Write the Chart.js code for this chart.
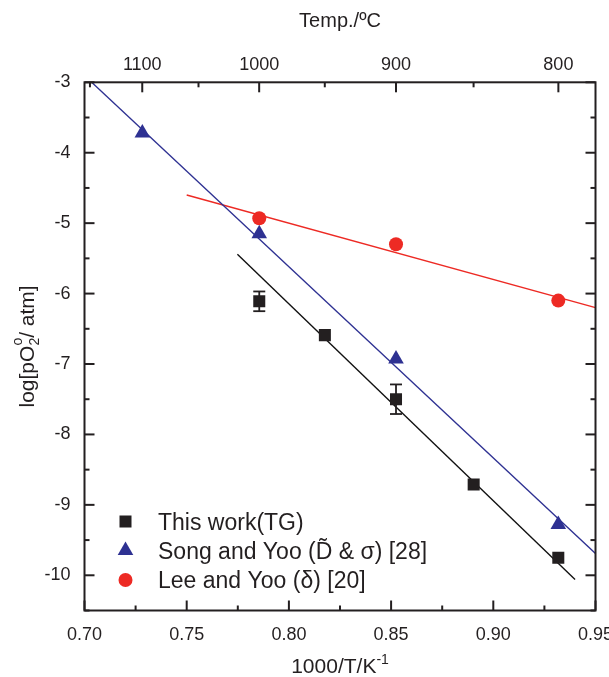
<!DOCTYPE html>
<html>
<head>
<meta charset="utf-8">
<script src="https://cdn.jsdelivr.net/npm/chart.js@4.4.1/dist/chart.umd.min.js"></script>
<style>
  html, body { margin: 0; padding: 0; background: #fff; }
  canvas { display: block; }
</style>
</head>
<body>
<canvas id="chart" width="609" height="677"></canvas>
<script>
// axis ticks
const xTicks = [0.70, 0.75, 0.80, 0.85, 0.90, 0.95];
const yTicks = [-3, -4, -5, -6, -7, -8, -9, -10];
const tempMajor = [1100, 1000, 900, 800];   // top axis, deg C
const tempMinor = [1150, 1050, 950, 850];

// This work (TG)
const tgX = [0.7855, 0.8176, 0.8524, 0.8904, 0.9318];
const tgY = [-6.11, -6.59, -7.50, -8.71, -9.75];
const tgErr = [0.14, 0, 0.21, 0, 0];
const tgFitX = [0.7748, 0.9400];
const tgFitY = [-5.44, -10.06];

// Song and Yoo
const songX = [0.7283, 0.7855, 0.8524, 0.9318];
const songY = [-3.72, -5.15, -6.93, -9.28];
const songFitX = [0.7035, 0.9500];
const songFitY = [-3.00, -9.69];

// Lee and Yoo
const leeX = [0.7855, 0.8524, 0.9318];
const leeY = [-4.93, -5.30, -6.10];
const leeFitX = [0.7500, 0.9500];
const leeFitY = [-4.60, -6.20];

const legendLabels = ['This work(TG)', 'Song and Yoo (D\u0303 & \u03c3) [28]', 'Lee and Yoo (\u03b4) [20]'];

const FONT = '"Liberation Sans", Arial, sans-serif';
const INK = '#231f20';
const BLUE = '#2e3192';
const RED = '#ed2a24';

const toInvT = t => 1000 / (t + 273.15);
const pts = (xs, ys) => xs.map((x, i) => ({ x: x, y: ys[i] }));

function tick(ctx, x1, y1, x2, y2) {
    ctx.beginPath();
    ctx.moveTo(x1, y1);
    ctx.lineTo(x2, y2);
    ctx.stroke();
}

// no extra room for the edge labels, the frame is fixed
function noEdgePad(s) {
    s.paddingLeft = 0;
    s.paddingRight = 0;
    s.paddingTop = 0;
    s.paddingBottom = 0;
}

// frame, inward ticks, error bars, legend and titles
const decor = {
    id: 'decor',
    afterDatasetsDraw(chart) {
        const ctx = chart.ctx, xs = chart.scales.x, ys = chart.scales.y;
        ctx.save();
        ctx.strokeStyle = INK;
        ctx.lineWidth = 1.8;
        tgX.forEach((x, i) => {
            if (!tgErr[i]) return;
            const px = xs.getPixelForValue(x);
            const y1 = ys.getPixelForValue(tgY[i] + tgErr[i]);
            const y2 = ys.getPixelForValue(tgY[i] - tgErr[i]);
            tick(ctx, px, y1, px, y2);
            tick(ctx, px - 6, y1, px + 6, y1);
            tick(ctx, px - 6, y2, px + 6, y2);
        });
        ctx.restore();
    },
    afterDraw(chart) {
        const ctx = chart.ctx, a = chart.chartArea;
        const xs = chart.scales.x, x2 = chart.scales.x2, ys = chart.scales.y;
        ctx.save();
        ctx.strokeStyle = INK;
        ctx.lineWidth = 2;
        ctx.strokeRect(a.left, a.top, a.right - a.left, a.bottom - a.top);

        // y ticks on both sides
        yTicks.forEach(v => {
            let p = ys.getPixelForValue(v);
            tick(ctx, a.left, p, a.left + 10, p);
            tick(ctx, a.right, p, a.right - 10, p);
            p = ys.getPixelForValue(v - 0.5);
            tick(ctx, a.left, p, a.left + 5, p);
            tick(ctx, a.right, p, a.right - 5, p);
        });
        // bottom ticks
        xTicks.forEach((v, i) => {
            let p = xs.getPixelForValue(v);
            tick(ctx, p, a.bottom, p, a.bottom - 10);
            if (i < xTicks.length - 1) {
                p = xs.getPixelForValue(v + 0.025);
                tick(ctx, p, a.bottom, p, a.bottom - 5);
            }
        });
        // top temperature ticks
        tempMajor.forEach(t => {
            const p = x2.getPixelForValue(toInvT(t));
            tick(ctx, p, a.top, p, a.top + 10);
        });
        tempMinor.forEach(t => {
            const p = x2.getPixelForValue(toInvT(t));
            tick(ctx, p, a.top, p, a.top + 5);
        });

        // legend
        const lx = 125.5, rows = [521.5, 550.5, 580];
        ctx.fillStyle = INK;
        ctx.fillRect(lx - 6, rows[0] - 6, 12, 12);
        ctx.fillStyle = BLUE;
        ctx.beginPath();
        ctx.moveTo(lx, rows[1] - 9);
        ctx.lineTo(lx + 7.8, rows[1] + 4.5);
        ctx.lineTo(lx - 7.8, rows[1] + 4.5);
        ctx.closePath();
        ctx.fill();
        ctx.fillStyle = RED;
        ctx.beginPath();
        ctx.arc(lx, rows[2], 7, 0, Math.PI * 2);
        ctx.fill();
        ctx.fillStyle = INK;
        ctx.font = '23px ' + FONT;
        ctx.textAlign = 'left';
        ctx.textBaseline = 'alphabetic';
        legendLabels.forEach((s, i) => ctx.fillText(s, 158, rows[i] + 8));

        // x title with superscript
        const cx = (a.left + a.right) / 2;
        ctx.font = '21px ' + FONT;
        const main = '1000/T/K';
        const w1 = ctx.measureText(main).width;
        ctx.font = '14px ' + FONT;
        const w2 = ctx.measureText('-1').width;
        let sx = cx - (w1 + w2) / 2;
        ctx.font = '21px ' + FONT;
        ctx.fillText(main, sx, 673);
        ctx.font = '14px ' + FONT;
        ctx.fillText('-1', sx + w1, 664);

        // y title, rotated, with stacked sup/sub
        ctx.translate(26, (a.top + a.bottom) / 2);
        ctx.rotate(-Math.PI / 2);
        ctx.font = '21px ' + FONT;
        const p1 = 'log[pO', p3 = '/ atm]';
        const wa = ctx.measureText(p1).width, wc = ctx.measureText(p3).width;
        ctx.font = '14px ' + FONT;
        const wb = Math.max(ctx.measureText('o').width, ctx.measureText('2').width);
        sx = -(wa + wb + wc) / 2;
        ctx.font = '21px ' + FONT;
        ctx.fillText(p1, sx, 8);
        ctx.fillText(p3, sx + wa + wb, 8);
        ctx.font = '14px ' + FONT;
        ctx.fillText('o', sx + wa, -4);
        ctx.fillText('2', sx + wa, 13);
        ctx.restore();
    }
};

const markerSet = (label, xs, ys, color, style, r) => ({
    label: label, data: pts(xs, ys), showLine: false, order: 0,
    pointStyle: style, pointRadius: r, pointHoverRadius: r,
    backgroundColor: color, borderColor: color, borderWidth: 0
});
const fitSet = (xs, ys, color) => ({
    data: pts(xs, ys), showLine: true, order: 1, pointRadius: 0,
    borderColor: color, borderWidth: 1.4, fill: false
});

new Chart(document.getElementById('chart'), {
    type: 'scatter',
    data: {
        datasets: [
            markerSet(legendLabels[0], tgX, tgY, INK, 'rect', 8.5),
            markerSet(legendLabels[1], songX, songY, BLUE, 'triangle', 9),
            markerSet(legendLabels[2], leeX, leeY, RED, 'circle', 7),
            fitSet(tgFitX, tgFitY, '#111111'),
            fitSet(songFitX, songFitY, BLUE),
            fitSet(leeFitX, leeFitY, RED)
        ]
    },
    options: {
        responsive: false,
        animation: false,
        devicePixelRatio: 1,
        layout: { padding: { left: 0, right: 13.5, top: 0, bottom: 0 }, autoPadding: false },
        plugins: { legend: { display: false }, tooltip: { enabled: false } },
        scales: {
            x: {
                type: 'linear', position: 'bottom', min: 0.70, max: 0.95,
                afterBuildTicks: s => { s.ticks = xTicks.map(v => ({ value: v })); },
                afterFit: s => { s.height = 66.5; noEdgePad(s); },
                grid: { display: false, drawTicks: false }, border: { display: false },
                ticks: { padding: 14, color: INK, font: { family: FONT, size: 18 }, maxRotation: 0, autoSkip: false,
                         callback: v => v.toFixed(2) }
            },
            x2: {
                type: 'linear', position: 'top', min: 0.70, max: 0.95,
                afterBuildTicks: s => { s.ticks = tempMajor.map(t => ({ value: toInvT(t) })); },
                afterFit: s => { s.height = 82.3; noEdgePad(s); },
                grid: { display: false, drawTicks: false }, border: { display: false },
                ticks: { padding: 6, color: INK, font: { family: FONT, size: 18 }, maxRotation: 0, autoSkip: false,
                         callback: v => String(Math.round(1000 / v - 273.15)) },
                title: { display: true, text: 'Temp./\u00baC', color: INK, font: { family: FONT, size: 20 }, padding: { top: 9, bottom: 0 } }
            },
            y: {
                type: 'linear', position: 'left', min: -10.5, max: -3,
                afterBuildTicks: s => { s.ticks = yTicks.map(v => ({ value: v })); },
                afterFit: s => { s.width = 84.5; noEdgePad(s); },
                grid: { display: false, drawTicks: false }, border: { display: false },
                ticks: { padding: 14, color: INK, font: { family: FONT, size: 18 }, callback: v => String(v) }
            }
        }
    },
    plugins: [decor]
});
</script>
</body>
</html>
